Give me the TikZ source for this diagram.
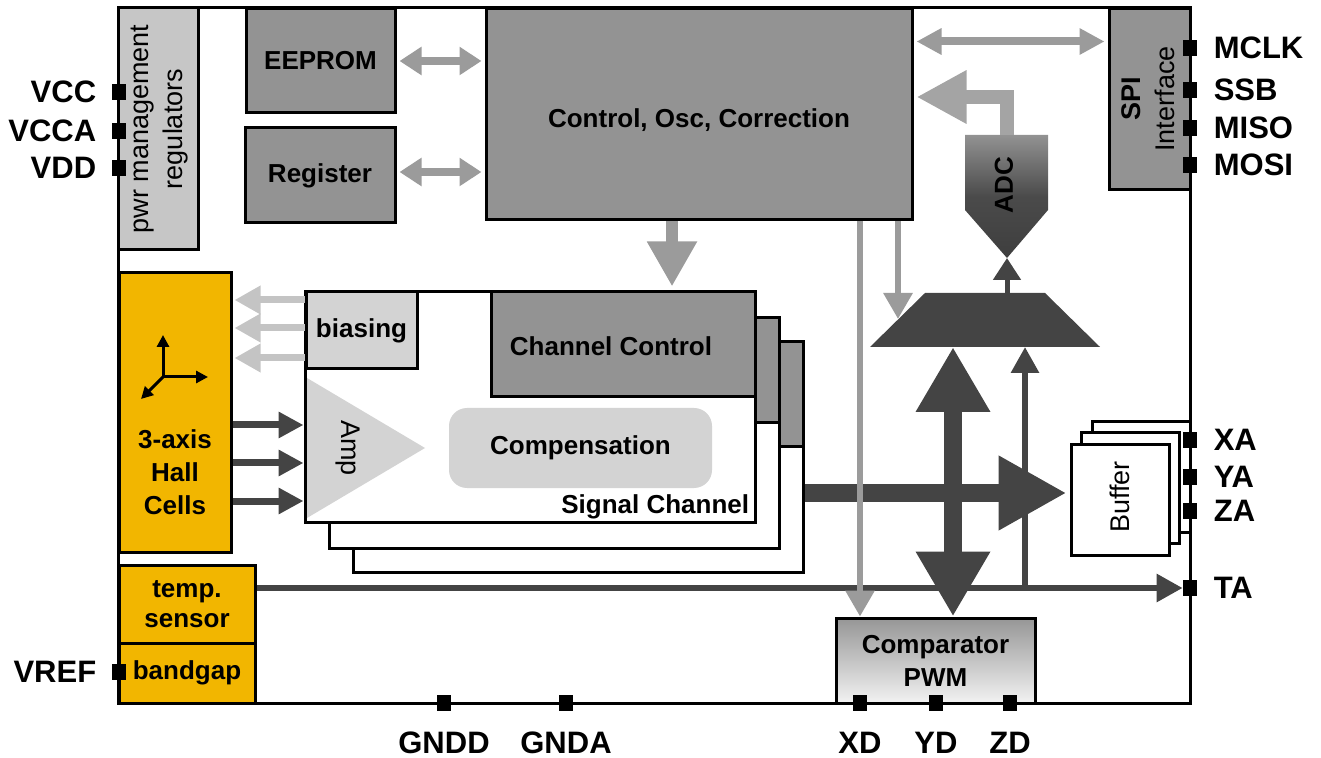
\documentclass[tikz,border=0pt]{standalone}
\usepackage{fontspec}
\setmainfont{Liberation Sans}
\usetikzlibrary{arrows.meta}

\definecolor{boxgray}{HTML}{939393}
\definecolor{pwrgray}{HTML}{C6C6C6}
\definecolor{lightfill}{HTML}{D3D3D3}
\definecolor{arrowgray}{HTML}{9B9B9B}
\definecolor{adcarrow}{HTML}{A4A4A4}
\definecolor{biasarrow}{HTML}{C4C4C4}
\definecolor{busdark}{HTML}{444444}
\definecolor{hallorange}{HTML}{F2B600}
\definecolor{cmptop}{HTML}{969696}
\definecolor{cmpbot}{HTML}{F2F2F2}
\definecolor{adctopc}{HTML}{929292}
\definecolor{adcbotc}{HTML}{3E3E3E}

\newcommand\blkfont{\fontsize{13}{16.5}\selectfont\bfseries}
\newcommand\pinfont{\fontsize{15.5}{18}\selectfont\bfseries}
\newcommand\plainfont{\fontsize{13.5}{17}\selectfont}

\tikzset{
    blk/.style={draw, line width=1.5pt, fill=boxgray, inner sep=0pt, font=\blkfont, align=center},
    hallbox/.style={blk, fill=hallorange},
    pinsq/.style={fill=black, inner sep=0pt, minimum width=7pt, minimum height=8pt},
    pinlbl/.style={inner sep=0pt, font=\pinfont},
    gtwo/.style={line width=4pt, draw=arrowgray, shorten <=1.5pt, shorten >=1.5pt,
        {Triangle[length=11pt,width=13.5pt]}-{Triangle[length=11pt,width=13.5pt]}},
    gone/.style={line width=3pt, draw=arrowgray, -{Triangle[length=13pt,width=14pt]}},
    dthin/.style={line width=3pt, draw=busdark, -{Triangle[length=13pt,width=13.5pt]}},
    dfat/.style={line width=9pt, draw=busdark, -{Triangle[length=34pt,width=35pt]}},
}

\begin{document}
\begin{tikzpicture}[x=0.5pt, y=-0.5pt]

    \useasboundingbox (0,0) rectangle (1321,758);

    % chip outline
    \draw[line width=1.5pt] (118,8) rectangle (1190,703);

    % top row
    \node[blk, fill=pwrgray, minimum width=40pt, minimum height=121pt] (pwr) at (158,129) {};
    \node[rotate=90, align=center, font=\plainfont] (pwrtxt) at (160,129) {pwr management\\regulators};
    \node[blk, minimum width=74.5pt, minimum height=52pt] (eeprom) at (320.5,61) {EEPROM};
    \node[blk, minimum width=75pt, minimum height=47.5pt] (reg) at (320,175.5) {Register};
    \node[blk, minimum width=213pt, minimum height=105.5pt] (ctrl) at (699,114.5) {};
    \node[font=\blkfont] (ctrltxt) at (699,120) {Control, Osc, Correction};
    \node[blk, minimum width=40.5pt, minimum height=90.5pt] (spi) at (1149.5,99.5) {};
    \node[rotate=90, align=center, font=\plainfont] (spitxt) at (1148,99) {\textbf{SPI}\\Interface};

    % ADC and mux
    \shade[top color=adctopc, bottom color=adcbotc, middle color=adcbotc!85!adctopc]
        (965,135) -- (1048,135) -- (1048,210) -- (1007,258) -- (965,210) -- cycle;
    \node[font=\blkfont, rotate=90] (adc) at (1004,185) {ADC};
    \coordinate (adctop) at (1007,135);
    \coordinate (adctip) at (1007,258);
    \fill[busdark] (870,347) -- (925,293) -- (1045,293) -- (1100,347) -- cycle;
    \coordinate (muxout) at (1007,293);
    \coordinate (muxin) at (898,319);
    \coordinate (muxbot) at (953,347);
    \coordinate (muxtemp) at (1025,347);

    % sensors
    \node[hallbox, minimum width=56pt, minimum height=139.5pt] (hall) at (175,412.5) {};
    \node[font=\blkfont, align=center, inner sep=0pt] (halltxt) at (175,472) {3-axis\\Hall\\Cells};
    \draw[line width=1.5pt, -{Triangle[length=6pt,width=6pt]}] (163,377) -- (163,335);
    \draw[line width=1.5pt, -{Triangle[length=6pt,width=6pt]}] (163,377) -- (208,377);
    \draw[line width=1.5pt, -{Triangle[length=6pt,width=6pt]}] (163,377) -- (141,399);
    \node[hallbox, minimum width=68pt, minimum height=39pt, font=\fontsize{13}{15}\selectfont\bfseries] (temp) at (187,604) {temp.\\sensor};
    \node[hallbox, minimum width=68pt, minimum height=30pt] (bandgap) at (187,673) {bandgap};

    % signal channels, back to front
    \foreach \dx/\dy/\nm in {48/50/C, 24/26/B} {
        \node[blk, fill=white, minimum width=225pt, minimum height=115pt] (sig\nm) at (530+\dx,407+\dy) {};
        \node[blk, minimum width=132pt, minimum height=52.5pt] (ch\nm) at (623+\dx,344.5+\dy) {};
    }
    \node[blk, fill=white, minimum width=225pt, minimum height=115pt] (sigA) at (530,407) {};
    \node[blk, minimum width=132pt, minimum height=52.5pt] (chA) at (623,344.5) {};
    \node[font=\blkfont] (chAtxt) at (611,346) {Channel Control};
    \node[blk, fill=lightfill, minimum width=55.5pt, minimum height=38.5pt] (bias) at (361.5,330.5) {biasing};
    \fill[lightfill] (307,378) -- (425,448) -- (307,518) -- cycle;
    \node[font=\plainfont, rotate=-90] (amp) at (348,448) {Amp};
    \node[fill=lightfill, rounded corners=9pt, minimum width=131.5pt, minimum height=40pt, font=\blkfont] (comp) at (580.5,448) {Compensation};
    \node[font=\blkfont, inner sep=0pt, anchor=base east] (sigtxt) at ([xshift=-3.5pt,yshift=5pt]sigA.south east) {Signal Channel};

    % buffers
    \foreach \cx/\cy/\nm in {1141/477/C, 1130/488/B} {
        \node[draw, line width=1.5pt, fill=white, minimum width=49pt, minimum height=55pt] (buf\nm) at (\cx,\cy) {};
    }
    \node[draw, line width=1.5pt, fill=white, minimum width=49pt, minimum height=55pt] (bufA) at (1120,500) {};
    \node[font=\plainfont, rotate=90] (buftxt) at (1120,497) {Buffer};

    % comparator
    \node[blk, top color=cmptop, bottom color=cmpbot, minimum width=99.5pt, minimum height=42.5pt] (cmp) at (935.5,660.5) {Comparator\\PWM};

    % pins
    \foreach \nm/\yy/\txt in {vcc/92/VCC, vcca/131/VCCA, vdd/168/VDD, vref/672/VREF} {
        \node[pinsq] (\nm) at (119,\yy) {};
        \node[pinlbl, anchor=east] (l\nm) at ([xshift=-7.5pt]\nm.west) {\txt};
    }
    \foreach \nm/\yy/\txt in {mclk/48/MCLK, ssb/90/SSB, miso/128/MISO, mosi/165/MOSI,
                              xa/440/XA, ya/477/YA, za/511/ZA, tapin/588/TA} {
        \node[pinsq] (\nm) at (1190,\yy) {};
        \node[pinlbl, anchor=west] (l\nm) at ([xshift=8pt]\nm.east) {\txt};
    }
    \foreach \nm/\xx/\txt in {gndd/444/GNDD, gnda/566/GNDA, xd/860/XD, yd/936/YD, zd/1010/ZD} {
        \node[pinsq] (\nm) at (\xx,703) {};
        \node[pinlbl, anchor=north] (l\nm) at ([yshift=-10pt]\nm.south) {\txt};
    }

    % control buses
    \draw[gtwo] (eeprom.east) -- (eeprom.east -| ctrl.west);
    \draw[gtwo] ([yshift=1.75pt]reg.east) -- ([yshift=1.75pt]reg.east -| ctrl.west);
    \coordinate (spiin) at ([yshift=-17pt]spi.north west);
    \draw[gtwo, {Triangle[length=12.5pt,width=12.5pt]}-{Triangle[length=12.5pt,width=12.5pt]}] (spiin -| ctrl.east) -- (spiin);
    \draw[line width=7pt, draw=adcarrow, line join=miter, shorten >=1.5pt, -{Triangle[length=25pt,width=25pt]}]
        (adctop) |- ([yshift=8.75pt]ctrl.east);
    \coordinate (ccin) at ([xshift=24.5pt,yshift=2pt]chA.north);
    \draw[line width=6pt, draw=arrowgray, -{Triangle[length=22.5pt,width=23.5pt]}] (ctrl.south -| ccin) -- (ccin);

    % data paths
    \draw[dthin] (temp.east |- tapin) -- (tapin.west);
    \draw[dthin] (muxtemp |- tapin) -- (muxtemp);
    \coordinate (busl) at ([yshift=-18pt]sigC.east);
    \draw[dfat, shorten >=1.5pt] (busl) -- (busl -| bufA.west);
    \draw[gone] (ctrl.south -| xd) -- (cmp.north -| xd);
    \draw[gone] (ctrl.south -| muxin) -- (muxin);
    \draw[line width=2.5pt, draw=busdark, -{Triangle[length=11pt,width=13.5pt]}] (muxout) -- (adctip);
    \draw[dfat, {Triangle[length=32.5pt,width=35pt]}-{Triangle[length=32.5pt,width=35pt]}] (muxbot) -- (cmp.north -| muxbot);

    % hall cells
    \foreach \yy in {425,463,501} {
        \draw[line width=3.5pt, draw=busdark, -{Triangle[length=12.5pt,width=12.5pt]}] (hall.east |- 0,\yy) -- (sigA.west |- 0,\yy);
    }
    \foreach \yy in {300,328,358} {
        \draw[line width=3.5pt, draw=biasarrow, -{Triangle[length=13pt,width=13.5pt]}] (bias.west |- 0,\yy) -- ([xshift=1pt]hall.east |- 0,\yy);
    }

\end{tikzpicture}
\end{document}
